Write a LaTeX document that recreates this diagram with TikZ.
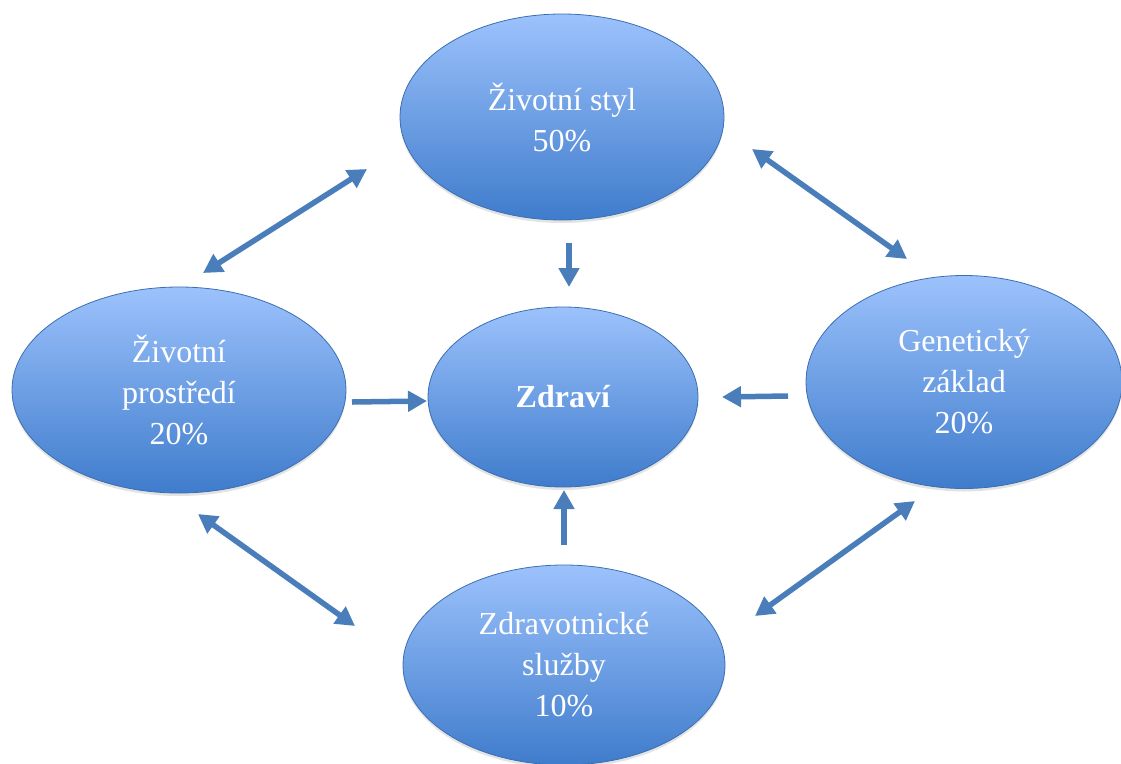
\documentclass[tikz,border=0pt]{standalone}
\usepackage{fontspec}
\setmainfont{Liberation Serif}
\usetikzlibrary{shapes.geometric,arrows.meta,shadows}
\definecolor{elltop}{HTML}{9CC2FC}
\definecolor{ellbot}{HTML}{3F7CCC}
\definecolor{ellline}{HTML}{3B6FB2}
\definecolor{arrowblue}{HTML}{4A7EBB}
\tikzset{
  blob/.style={ellipse, draw=ellline, line width=0.8pt, top color=elltop, bottom color=ellbot,
    inner sep=0pt, align=center, text=white, font=\fontsize{32}{41}\selectfont,
    drop shadow={opacity=0.22, shadow xshift=0pt, shadow yshift=-3pt}},
  oneway/.style={draw=arrowblue, line width=5.5pt, -{Triangle[length=19pt,width=20pt]}},
  twoway/.style={draw=arrowblue, line width=5.5pt, {Triangle[length=19pt,width=20pt]}-{Triangle[length=19pt,width=20pt]}}
}
\begin{document}
\begin{tikzpicture}[x=1pt,y=-1pt]
\useasboundingbox (0,0) rectangle (1121,763);
\node[blob, minimum width=324pt, minimum height=206pt] (styl) at (562,117) {Životní styl\\50\%};
\node[blob, minimum width=334pt, minimum height=206pt] (prostr) at (179,390) {Životní\\prostředí\\20\%};
\node[blob, minimum width=270pt, minimum height=180pt] (zdravi) at (563,397) {\textbf{Zdraví}};
\node[blob, minimum width=316pt, minimum height=213pt] (gen) at (964,382) {Genetický\\základ\\20\%};
\node[blob, minimum width=322pt, minimum height=200pt] (sluzby) at (564,665) {Zdravotnické\\služby\\10\%};

\coordinate (a1) at (203,273); \coordinate (a2) at (367,169);
\coordinate (b1) at (752,149); \coordinate (b2) at (907,259);
\coordinate (c1) at (198,514); \coordinate (c2) at (355,626);
\coordinate (d1) at (755,616); \coordinate (d2) at (915,501);
\coordinate (e1) at (569,243); \coordinate (e2) at (569,287);
\coordinate (f1) at (352,402); \coordinate (f2) at (427,401);
\coordinate (g1) at (788,396); \coordinate (g2) at (722,397);
\coordinate (h1) at (564,545); \coordinate (h2) at (564,490);

\draw[twoway] (a1) -- (a2);
\draw[twoway] (b1) -- (b2);
\draw[twoway] (c1) -- (c2);
\draw[twoway] (d1) -- (d2);
\draw[oneway] (e1) -- (e2);
\draw[oneway] (f1) -- (f2);
\draw[oneway] (g1) -- (g2);
\draw[oneway] (h1) -- (h2);
\end{tikzpicture}
\end{document}
